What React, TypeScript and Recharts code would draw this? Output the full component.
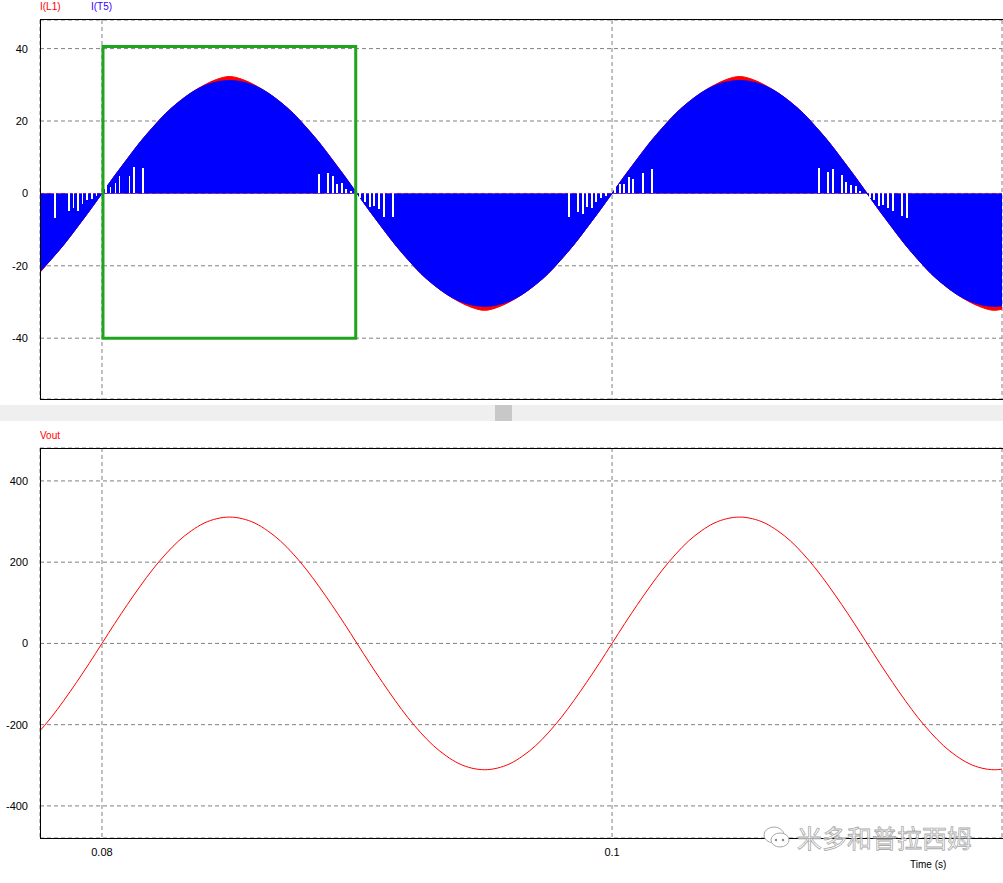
import { Area, CartesianGrid, ComposedChart, Line, ReferenceArea, ReferenceLine, XAxis, YAxis } from "recharts"

// simulation time (s)
const time = [
  0.0775, 0.078, 0.0785, 0.079, 0.0795, 0.08, 0.0805, 0.081, 0.0815, 0.082,
  0.0825, 0.083, 0.0835, 0.084, 0.0845, 0.085, 0.0855, 0.086, 0.0865, 0.087,
  0.0875, 0.088, 0.0885, 0.089, 0.0895, 0.09, 0.0905, 0.091, 0.0915, 0.092,
  0.0925, 0.093, 0.0935, 0.094, 0.0945, 0.095, 0.0955, 0.096, 0.0965, 0.097,
  0.0975, 0.098, 0.0985, 0.099, 0.0995, 0.1, 0.1005, 0.101, 0.1015, 0.102,
  0.1025, 0.103, 0.1035, 0.104, 0.1045, 0.105, 0.1055, 0.106, 0.1065, 0.107,
  0.1075, 0.108, 0.1085, 0.109, 0.1095, 0.11, 0.1105, 0.111, 0.1115, 0.112,
  0.1125, 0.113, 0.1135, 0.114, 0.1145, 0.115, 0.1155,
]

// output voltage Vout (V)
const vout = [
  -220, -183, -141, -96, -49, 0, 49, 96, 141, 183,
  220, 252, 277, 296, 307, 311, 307, 296, 277, 252,
  220, 183, 141, 96, 49, 0, -49, -96, -141, -183,
  -220, -252, -277, -296, -307, -311, -307, -296, -277, -252,
  -220, -183, -141, -96, -49, 0, 49, 96, 141, 183,
  220, 252, 277, 296, 307, 311, 307, 296, 277, 252,
  220, 183, 141, 96, 49, 0, -49, -96, -141, -183,
  -220, -252, -277, -296, -307, -311, -307,
]

// inductor current I(L1) (A) - only shows above the switch current near the peaks
const iL1 = [
  -22.4, -18.3, -14.2, -9.6, -4.9, 0, 4.9, 9.6, 14.2, 18.3,
  22.1, 25.2, 27.8, 29.9, 31.5, 32.3, 31.5, 29.9, 27.8, 25.2,
  22.1, 18.3, 14.2, 9.6, 4.9, 0, -4.9, -9.6, -14.2, -18.3,
  -22.1, -25.2, -27.8, -29.9, -31.5, -32.3, -31.5, -29.9, -27.8, -25.2,
  -22.1, -18.3, -14.2, -9.6, -4.9, 0, 4.9, 9.6, 14.2, 18.3,
  22.1, 25.2, 27.8, 29.9, 31.5, 32.3, 31.5, 29.9, 27.8, 25.2,
  22.1, 18.3, 14.2, 9.6, 4.9, 0, -4.9, -9.6, -14.2, -18.3,
  -22.1, -25.2, -27.8, -29.9, -31.5, -32.3, -31.5,
]

// switch current I(T5) envelope (A)
const iT5 = [
  -22.1, -18.3, -14.2, -9.6, -4.9, 0, 4.9, 9.6, 14.2, 18.3,
  22.1, 25.2, 27.8, 29.7, 30.8, 31.2, 30.8, 29.7, 27.8, 25.2,
  22.1, 18.3, 14.2, 9.6, 4.9, 0, -4.9, -9.6, -14.2, -18.3,
  -22.1, -25.2, -27.8, -29.7, -30.8, -31.2, -30.8, -29.7, -27.8, -25.2,
  -22.1, -18.3, -14.2, -9.6, -4.9, 0, 4.9, 9.6, 14.2, 18.3,
  22.1, 25.2, 27.8, 29.7, 30.8, 31.2, 30.8, 29.7, 27.8, 25.2,
  22.1, 18.3, 14.2, 9.6, 4.9, 0, -4.9, -9.6, -14.2, -18.3,
  -22.1, -25.2, -27.8, -29.7, -30.8, -31.2, -30.8,
]

// switching gaps in I(T5) around the zero crossings
const gapTime = [
  0.07816, 0.07871, 0.07888, 0.07906, 0.07924, 0.07941, 0.07961, 0.07978,
  0.08015, 0.08033, 0.08053, 0.08069, 0.08108, 0.08126, 0.08161,
  0.08851, 0.08886, 0.08906, 0.08922, 0.08941, 0.08957, 0.08977,
  0.09012, 0.09031, 0.09051, 0.09067, 0.09086, 0.09106, 0.09141,
  0.09831, 0.09867, 0.09886, 0.09902, 0.09922, 0.09937, 0.09957, 0.09977,
  0.10012, 0.10031, 0.10047, 0.10067, 0.10082, 0.10122, 0.10157,
  0.10812, 0.10847, 0.10867, 0.10902, 0.10918, 0.10937, 0.10957, 0.10973,
  0.11012, 0.11028, 0.11047, 0.11063, 0.11082, 0.11102, 0.11137, 0.11157,
]
const gapDepth = [
  -6.9, -4.8, -3.9, -4.8, -2.8, -1.7, -1.5, -0.8,
  2.3, 1.9, 3.0, 4.8, 4.8, 7.2, 6.9,
  5.3, 5.6, 4.8, 2.7, 2.8, 1.2, 0.6,
  -1.2, -2.5, -3.7, -3.4, -4.3, -6.4, -6.4,
  -6.4, -5.1, -5.8, -3.7, -4.0, -2.3, -1.2, -0.6,
  2.5, 2.7, 2.6, 4.6, 4.0, 5.6, 6.7,
  7.0, 5.9, 6.7, 5.1, 3.1, 2.3, 2.0, 0.6,
  -1.2, -1.8, -3.4, -3.2, -4.0, -4.8, -6.2, -6.7,
]

const timeTicks = [0.08, 0.1]
const currentTicks = [-40, -20, 0, 20, 40]
const voltTicks = [-400, -200, 0, 200, 400]

// zoom window drawn in green
const boxTime = [0.08004, 0.08995]
const boxCurrent = [-40, 40.6]

const data = time.map((t, i) => ({ t, vout: vout[i], iL1: iL1[i], iT5: iT5[i] }))
const gaps = gapTime.map((t, i) => ({ t, d: gapDepth[i] }))

const font = "'Liberation Sans', Arial, sans-serif"
const tickStyle = { fill: "#000", fontSize: 11, fontFamily: font }
const gridColor = "#808080"

export default function App() {
  return (
    <div style={{ position: "absolute", left: 0, top: 0, width: 1003, height: 883, background: "#fff", overflow: "hidden", fontFamily: font }}>
      <div style={{ position: "absolute", left: 40, top: 1, fontSize: 10, color: "#ff0000" }}>I(L1)</div>
      <div style={{ position: "absolute", left: 91, top: 1, fontSize: 10, color: "#3300ff" }}>I(T5)</div>

      <div style={{ position: "absolute", left: 0, top: 0 }}>
        <ComposedChart width={1003} height={400} data={data} margin={{ top: 20, right: 1, bottom: 1, left: 0 }}>
          <CartesianGrid stroke={gridColor} strokeDasharray="4 3" />
          <XAxis dataKey="t" type="number" domain={[0.07757, 0.11529]} allowDataOverflow ticks={timeTicks} hide />
          <YAxis type="number" domain={[-56.8, 47.9]} allowDataOverflow ticks={currentTicks} width={40}
            tickLine={false} axisLine={false} tickMargin={6} tick={tickStyle} />
          <Area dataKey="iL1" type="monotone" baseValue={0} stroke="#ff0000" strokeWidth={1}
            fill="#ff0000" fillOpacity={1} dot={false} activeDot={false} isAnimationActive={false} />
          <Area dataKey="iT5" type="monotone" baseValue={0} stroke="#0000ff" strokeWidth={1}
            fill="#0000ff" fillOpacity={1} dot={false} activeDot={false} isAnimationActive={false} />
          {gaps.map((g, i) => (
            <ReferenceLine key={i} segment={[{ x: g.t, y: 0 }, { x: g.t, y: g.d }]} stroke="#ffffff"
              strokeWidth={1.5} shapeRendering="crispEdges" zIndex={900} />
          ))}
          <ReferenceArea x1={boxTime[0]} x2={boxTime[1]} y1={boxCurrent[0]} y2={boxCurrent[1]}
            fill="none" fillOpacity={0} stroke="#1ea51e" strokeWidth={3} zIndex={1000} />
        </ComposedChart>
      </div>
      <div style={{ position: "absolute", left: 40, top: 19, width: 980, height: 381, boxSizing: "border-box", borderTop: "1px solid #000", borderLeft: "1px solid #000", borderBottom: "1px solid #000" }} />

      <div style={{ position: "absolute", left: 0, top: 405, width: 1003, height: 16, background: "#efefef" }} />
      <div style={{ position: "absolute", left: 495, top: 405, width: 17, height: 16, background: "#c8c8c8" }} />

      <div style={{ position: "absolute", left: 40, top: 430, fontSize: 10, color: "#ff0000" }}>Vout</div>

      <div style={{ position: "absolute", left: 0, top: 428 }}>
        <ComposedChart width={1003} height={455} data={data} margin={{ top: 20, right: 1, bottom: 15, left: 0 }}>
          <CartesianGrid stroke={gridColor} strokeDasharray="4 3" />
          <XAxis dataKey="t" type="number" domain={[0.07757, 0.11529]} allowDataOverflow ticks={timeTicks} height={30}
            tickLine={false} axisLine={false} tickMargin={4} tick={tickStyle} />
          <YAxis type="number" domain={[-479, 481]} allowDataOverflow ticks={voltTicks} width={40}
            tickLine={false} axisLine={false} tickMargin={6} tick={tickStyle} />
          <Line dataKey="vout" type="monotone" stroke="#ff0000" strokeWidth={1} dot={false} activeDot={false} isAnimationActive={false} />
        </ComposedChart>
      </div>
      <div style={{ position: "absolute", left: 40, top: 448, width: 980, height: 391, boxSizing: "border-box", borderTop: "1px solid #000", borderLeft: "1px solid #000", borderBottom: "1px solid #000" }} />

      <div style={{ position: "absolute", left: 910, top: 859, fontSize: 10, color: "#000" }}>Time (s)</div>

      <svg style={{ position: "absolute", left: 762, top: 820 }} width={30} height={36}>
        <ellipse cx={12} cy={15} rx={10} ry={8} fill="#fff" stroke="#aaa" strokeWidth={1} />
        <ellipse cx={18} cy={20} rx={9} ry={7} fill="#fff" stroke="#aaa" strokeWidth={1} />
        <circle cx={14} cy={20} r={1.2} fill="#888" />
        <circle cx={21} cy={20} r={1.2} fill="#888" />
      </svg>
      <div style={{ position: "absolute", left: 797, top: 822, fontSize: 25, lineHeight: "30px", fontFamily: "'Noto Sans CJK SC', sans-serif",
        color: "rgba(255,255,255,0.7)", WebkitTextStroke: "0.8px #aaa" }}>米多和普拉西姆</div>
    </div>
  )
}
